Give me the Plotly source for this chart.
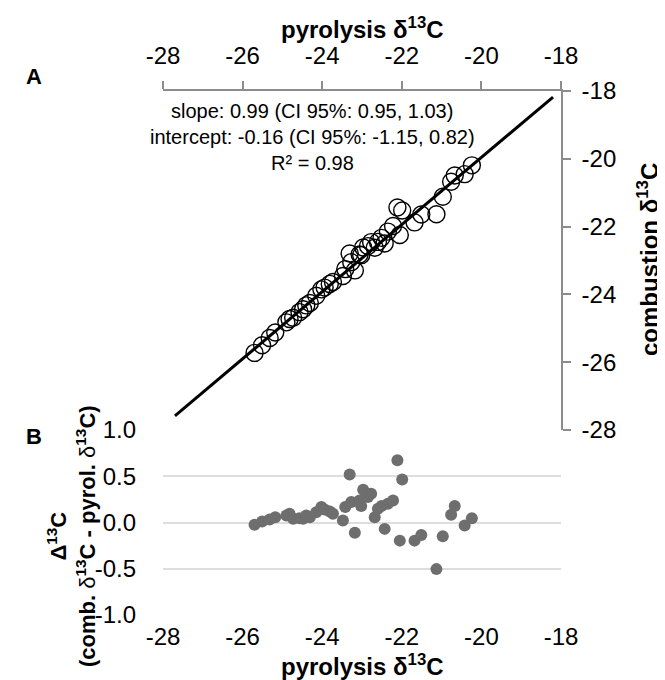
import plotly.graph_objects as go

# ---- data ----
pyrolysis = [-25.70, -25.51, -25.32, -25.18, -24.90, -24.82, -24.73, -24.57, -24.48, -24.40,
             -24.31, -24.15, -24.02, -23.94, -23.81, -23.73, -23.48, -23.42, -23.31, -23.27,
             -23.18, -23.06, -23.02, -22.97, -22.85, -22.77, -22.68, -22.60, -22.51, -22.43,
             -22.35, -22.22, -22.11, -22.05, -21.99, -21.68, -21.51, -21.13, -20.97, -20.76,
             -20.67, -20.42, -20.24]
delta = [-0.025, 0.011, 0.033, 0.058, 0.076, 0.094, 0.040, 0.047, 0.040, 0.076,
         0.058, 0.112, 0.167, 0.141, 0.120, 0.094, 0.022, 0.167, 0.518, 0.221,
         -0.112, 0.239, 0.178, 0.355, 0.275, 0.312, 0.058, 0.149, 0.178, -0.069,
         0.203, 0.239, 0.674, -0.196, 0.464, -0.196, -0.134, -0.504, -0.149, 0.083,
         0.178, -0.033, 0.047]
combustion = [round(p + d, 3) for p, d in zip(pyrolysis, delta)]

slope = 0.99
intercept = -0.16
fit_x_extent = [-27.7, -18.2]
fit_y = [slope * x + intercept for x in fit_x_extent]

axis_ticks = [-28, -26, -24, -22, -20, -18]
axis_labels = ["-28", "-26", "-24", "-22", "-20", "-18"]
resid_ticks = [-1.0, -0.5, 0.0, 0.5, 1.0]
resid_labels = ["-1.0", "-0.5", "0.0", "0.5", "1.0"]

# ---- figure ----
FONT = "Liberation Sans, Arial, sans-serif"
W, H = 665, 680
L, R, T, B = 155, 112, 83, 73
split = (H - B - 422) / (H - T - B)

fig = go.Figure()
fig.add_trace(go.Scatter(x=fit_x_extent, y=fit_y, mode="lines",
                         line=dict(color="black", width=3), xaxis="x", yaxis="y",
                         showlegend=False, hoverinfo="skip"))
fig.add_trace(go.Scatter(x=pyrolysis, y=combustion, mode="markers",
                         marker=dict(symbol="circle-open", size=17,
                                     line=dict(color="black", width=1.4), color="black"),
                         xaxis="x", yaxis="y", showlegend=False))
fig.add_trace(go.Scatter(x=pyrolysis, y=delta, mode="markers",
                         marker=dict(symbol="circle", size=12, color="#6e6e6e"),
                         xaxis="x2", yaxis="y2", showlegend=False))

axcol = "#8c8c8c"
fig.update_layout(
    width=W, height=H,
    margin=dict(l=L, r=R, t=T, b=B),
    paper_bgcolor="white", plot_bgcolor="rgba(0,0,0,0)",
    font=dict(family=FONT, size=24, color="black"),
    xaxis=dict(domain=[0, 1], range=[-28, -18], side="top", anchor="y",
               tickvals=axis_ticks, ticktext=axis_labels, ticks="outside", ticklen=8,
               tickcolor=axcol, tickwidth=1.5, ticklabelstandoff=8,
               showline=True, linecolor=axcol, linewidth=1.5, showgrid=False,
               zeroline=False, tickfont=dict(size=24)),
    yaxis=dict(domain=[split, 1], range=[-28, -18], side="right", anchor="x",
               tickvals=axis_ticks, ticktext=axis_labels, ticks="outside", ticklen=8,
               tickcolor=axcol, tickwidth=1.5, ticklabelstandoff=6,
               showline=True, linecolor=axcol, linewidth=1.5, showgrid=False,
               zeroline=False, tickfont=dict(size=24)),
    xaxis2=dict(domain=[0, 1], range=[-28, -18], anchor="y2",
                tickvals=axis_ticks, ticktext=axis_labels, showline=False, showgrid=False,
                zeroline=False, ticks="", ticklabelstandoff=5, tickfont=dict(size=24)),
    yaxis2=dict(domain=[0, split], range=[-1.0, 1.0], anchor="x2",
                tickvals=resid_ticks, ticktext=resid_labels, showline=False,
                showgrid=True, gridcolor="#dedede", gridwidth=1.5, zeroline=False,
                ticks="", ticklabelstandoff=26, tickfont=dict(size=24)),
)

def px_x(px):
    return (px - L) / (W - L - R)

def px_y(py):
    return (H - B - py) / (H - T - B)

ann = [
    dict(text="<b>pyrolysis δ<sup>13</sup>C</b>", x=px_x(354), y=px_y(20), size=24),
    dict(text="<b>pyrolysis δ<sup>13</sup>C</b>", x=px_x(354), y=px_y(657), size=24),
    dict(text="<b>A</b>", x=px_x(26), y=px_y(68), size=22),
    dict(text="<b>B</b>", x=px_x(26), y=px_y(428), size=22),
    dict(text="slope: 0.99 (CI 95%: 0.95, 1.03)", x=px_x(304), y=px_y(103), size=20),
    dict(text="intercept: -0.16 (CI 95%: -1.15, 0.82)", x=px_x(304), y=px_y(129), size=20),
    dict(text="R² = 0.98", x=px_x(304), y=px_y(155), size=20),
]
for a in ann:
    fig.add_annotation(text=a["text"], x=a["x"], y=a["y"], xref="paper", yref="paper",
                       xanchor="center", yanchor="middle", showarrow=False,
                       font=dict(size=a["size"], family=FONT, color="black"))

fig.add_annotation(text="<b>combustion δ<sup>13</sup>C</b>", x=px_x(640), y=px_y(252),
                   xref="paper", yref="paper", xanchor="center", yanchor="middle",
                   textangle=-90, showarrow=False,
                   font=dict(size=24, family=FONT, color="black"))
fig.add_annotation(
    text="<b>Δ<sup>13</sup>C</b><br><b>(comb. </b>δ<b><sup>13</sup>C - pyrol. </b>δ<b><sup>13</sup>C)</b>",
    x=px_x(63), y=px_y(528), xref="paper", yref="paper", xanchor="center", yanchor="middle",
    textangle=-90, showarrow=False, font=dict(size=22, family=FONT, color="black"))

fig.write_html("out.html")
